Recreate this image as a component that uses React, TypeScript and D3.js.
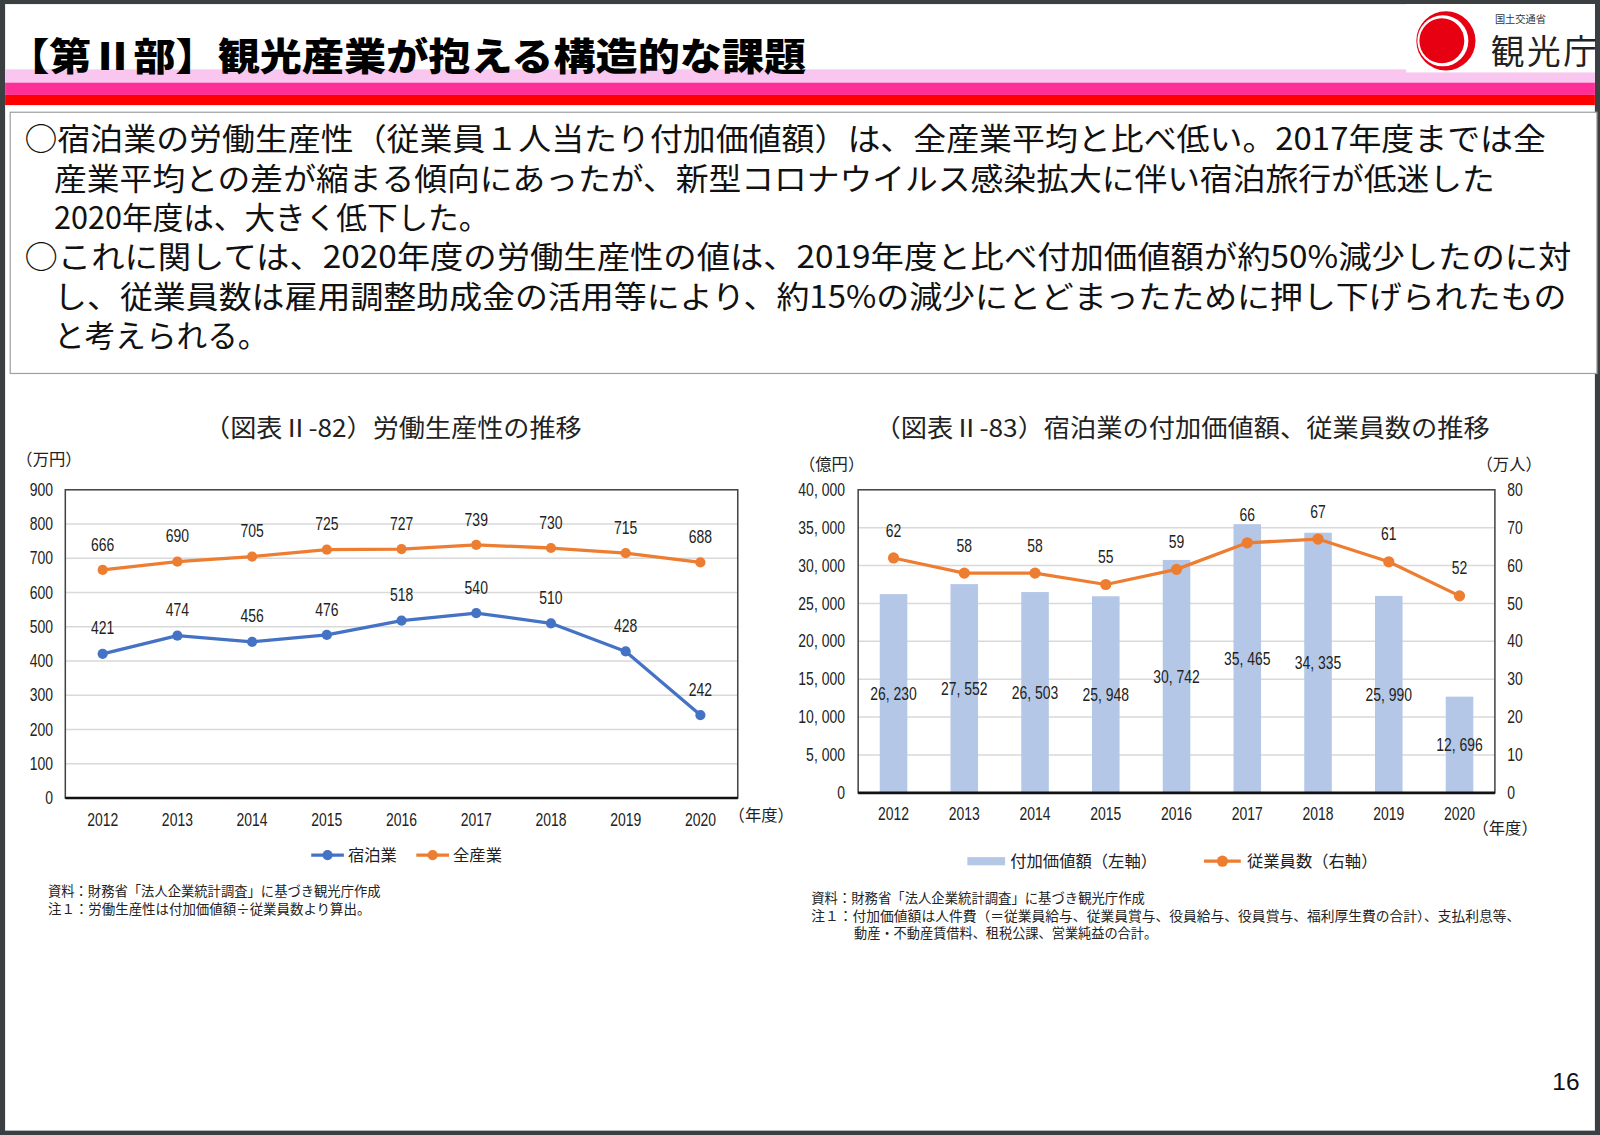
import React, { useEffect, useRef } from 'react';
import * as d3 from 'd3';

// chart data
const years = ['2012', '2013', '2014', '2015', '2016', '2017', '2018', '2019', '2020'];
const lodgingProductivity = [421, 474, 456, 476, 518, 540, 510, 428, 242];
const allIndustryProductivity = [666, 690, 705, 725, 727, 739, 730, 715, 688];
const addedValue = [26230, 27552, 26503, 25948, 30742, 35465, 34335, 25990, 12696];
const employees = [62, 58, 58, 55, 59, 66, 67, 61, 52];
const leftTicks1 = [0, 100, 200, 300, 400, 500, 600, 700, 800, 900];
const leftTicks2 = [0, 5000, 10000, 15000, 20000, 25000, 30000, 35000, 40000];
const rightTicks2 = [0, 10, 20, 30, 40, 50, 60, 70, 80];

const bodyLines = [
  '○宿泊業の労働生産性（従業員１人当たり付加価値額）は、全産業平均と比べ低い。2017年度までは全',
  '産業平均との差が縮まる傾向にあったが、新型コロナウイルス感染拡大に伴い宿泊旅行が低迷した',
  '2020年度は、大きく低下した。',
  '○これに関しては、2020年度の労働生産性の値は、2019年度と比べ付加価値額が約50%減少したのに対',
  'し、従業員数は雇用調整助成金の活用等により、約15%の減少にとどまったために押し下げられたもの',
  'と考えられる。',
];
const bodyWidths = [1491, 1412, null, 1516, 1482, null];

const JP = '"Noto Sans CJK JP", "Noto Sans", sans-serif';
const ARIAL = '"Liberation Sans", Arial, sans-serif';
const BLUE = '#4472c4';
const ORANGE = '#ed7d31';
const BAR = '#b4c7e7';
const GRID = '#d9d9d9';

const jpComma = (v) => d3.format(',')(v).replace(/,/g, ', ');

const App = () => {
  const ref = useRef(null);

  useEffect(() => {
    document.body.style.margin = '0';
    const svg = d3.select(ref.current);
    svg.selectAll('*').remove();

    // layout was measured on a 1568-wide copy of the slide
    const root = svg.append('g').attr('transform', `scale(${1600 / 1568})`);

    // page frame
    root.append('rect').attr('width', 1568).attr('height', 1113).attr('fill', '#3c3f41');
    root.append('rect').attr('x', 5).attr('y', 4).attr('width', 1558).attr('height', 1104).attr('fill', '#fff');

    // header bands
    root.append('rect').attr('x', 5).attr('y', 68).attr('width', 1558).attr('height', 13).attr('fill', '#f8c6ef');
    root.append('rect').attr('x', 5).attr('y', 81).attr('width', 1558).attr('height', 12).attr('fill', '#ff2d96');
    root.append('rect').attr('x', 5).attr('y', 93).attr('width', 1558).attr('height', 10).attr('fill', '#ff0000');
    root.append('rect').attr('x', 1378).attr('y', 4).attr('width', 185).attr('height', 67).attr('fill', '#fff');

    root.append('text')
      .attr('x', 7).attr('y', 69)
      .style('font-family', JP).style('font-weight', 900).style('font-size', '37px')
      .attr('textLength', 783).attr('lengthAdjust', 'spacingAndGlyphs')
      .text('【第Ⅱ部】観光産業が抱える構造的な課題');

    // logo
    root.append('circle').attr('cx', 1417).attr('cy', 40).attr('r', 29).attr('fill', '#e60012');
    root.append('circle').attr('cx', 1414).attr('cy', 40).attr('r', 25).attr('fill', '#fff');
    root.append('circle').attr('cx', 1413).attr('cy', 40).attr('r', 22).attr('fill', '#e60012');
    root.append('text').attr('x', 1465).attr('y', 23)
      .style('font-family', JP).style('font-size', '10px').attr('fill', '#333').text('国土交通省');
    root.append('text').attr('x', 1461).attr('y', 63)
      .style('font-family', JP).style('font-size', '33px').attr('fill', '#222')
      .attr('textLength', 104).attr('lengthAdjust', 'spacing').text('観光庁');

    // body text box
    root.append('rect').attr('x', 10).attr('y', 110).attr('width', 1555).attr('height', 256)
      .attr('fill', '#fff').attr('stroke', '#a0a0a0').attr('stroke-width', 1.2);
    const lineY = [147, 186, 224, 263, 302, 340];
    bodyLines.forEach((l, i) => {
      const t = root.append('text')
        .attr('x', l.startsWith('○') ? 24 : 53).attr('y', lineY[i])
        .style('font-family', JP).style('font-size', '30px').attr('fill', '#111')
        .text(l);
      if (bodyWidths[i]) t.attr('textLength', bodyWidths[i]).attr('lengthAdjust', 'spacingAndGlyphs');
    });

    const label = (g, x, y, txt, size, anchor = 'middle', family = JP, fill = '#222') =>
      g.append('text').attr('x', x).attr('y', y).attr('text-anchor', anchor)
        .style('font-family', family).style('font-size', `${size}px`).attr('fill', fill).text(txt);

    // narrow numeric labels (Arial Narrow look)
    const num = (g, x, y, txt, anchor = 'middle', size = 18) =>
      g.append('text').attr('transform', `translate(${x},${y}) scale(0.76,1)`)
        .attr('text-anchor', anchor)
        .style('font-family', ARIAL).style('font-size', `${size}px`).attr('fill', '#222').text(txt);

    // ---------- chart 1: productivity ----------
    const c1 = root.append('g');
    const x1 = d3.scaleBand().domain(years).range([64, 723]);
    const y1 = d3.scaleLinear().domain([0, 900]).range([782, 480]);
    const cx1 = (d) => x1(d) + x1.bandwidth() / 2;

    label(c1, 200, 428, '（図表Ⅱ-82）労働生産性の推移', 24, 'start')
      .attr('textLength', 370).attr('lengthAdjust', 'spacingAndGlyphs');
    label(c1, 16, 456, '（万円）', 16, 'start');

    leftTicks1.slice(1, -1).forEach((v) => {
      c1.append('line').attr('x1', 64).attr('x2', 723).attr('y1', y1(v)).attr('y2', y1(v))
        .attr('stroke', GRID).attr('stroke-width', 1.5);
    });
    c1.append('rect').attr('x', 64).attr('y', 480).attr('width', 659).attr('height', 302)
      .attr('fill', 'none').attr('stroke', '#444').attr('stroke-width', 1.5);
    c1.append('line').attr('x1', 64).attr('x2', 723).attr('y1', 782).attr('y2', 782)
      .attr('stroke', '#111').attr('stroke-width', 2.5);
    leftTicks1.forEach((v) => num(c1, 52, y1(v) + 6, String(v), 'end'));
    years.forEach((yr) => num(c1, cx1(yr), 809, yr));
    label(c1, 714, 805, '（年度）', 16, 'start');

    const line1 = d3.line().x((d, i) => cx1(years[i])).y((d) => y1(d));
    [[lodgingProductivity, BLUE], [allIndustryProductivity, ORANGE]].forEach(([vals, col]) => {
      c1.append('path').datum(vals).attr('d', line1).attr('fill', 'none')
        .attr('stroke', col).attr('stroke-width', 3.2).attr('stroke-linejoin', 'round');
      vals.forEach((v, i) => {
        c1.append('circle').attr('cx', cx1(years[i])).attr('cy', y1(v)).attr('r', 5).attr('fill', col);
        num(c1, cx1(years[i]), y1(v) - 19, String(v));
      });
    });

    // legend 1
    const lg1 = [['宿泊業', BLUE, 305], ['全産業', ORANGE, 408]];
    lg1.forEach(([name, col, lx]) => {
      c1.append('line').attr('x1', lx).attr('x2', lx + 32).attr('y1', 838).attr('y2', 838)
        .attr('stroke', col).attr('stroke-width', 3.2);
      c1.append('circle').attr('cx', lx + 16).attr('cy', 838).attr('r', 5).attr('fill', col);
      label(c1, lx + 36, 844, name, 16, 'start');
    });

    label(c1, 47, 878, '資料：財務省「法人企業統計調査」に基づき観光庁作成', 13, 'start')
      .attr('textLength', 326).attr('lengthAdjust', 'spacingAndGlyphs');
    label(c1, 47, 896, '注１：労働生産性は付加価値額÷従業員数より算出。', 13, 'start')
      .attr('textLength', 316).attr('lengthAdjust', 'spacingAndGlyphs');

    // ---------- chart 2: added value & employees ----------
    const c2 = root.append('g');
    const x2 = d3.scaleBand().domain(years).range([841, 1465]);
    const yL = d3.scaleLinear().domain([0, 40000]).range([777, 480]);
    const yR = d3.scaleLinear().domain([0, 80]).range([777, 480]);
    const cx2 = (d) => x2(d) + x2.bandwidth() / 2;
    const barW = 27;

    label(c2, 857, 428, '（図表Ⅱ-83）宿泊業の付加価値額、従業員数の推移', 24, 'start')
      .attr('textLength', 603).attr('lengthAdjust', 'spacingAndGlyphs');
    label(c2, 783, 461, '（億円）', 16, 'start');
    label(c2, 1447, 461, '（万人）', 16, 'start');

    leftTicks2.slice(1, -1).forEach((v) => {
      c2.append('line').attr('x1', 841).attr('x2', 1465).attr('y1', yL(v)).attr('y2', yL(v))
        .attr('stroke', GRID).attr('stroke-width', 1.5);
    });

    years.forEach((yr, i) => {
      c2.append('rect').attr('x', cx2(yr) - barW / 2).attr('y', yL(addedValue[i]))
        .attr('width', barW).attr('height', yL(0) - yL(addedValue[i])).attr('fill', BAR);
    });

    c2.append('rect').attr('x', 841).attr('y', 480).attr('width', 624).attr('height', 297)
      .attr('fill', 'none').attr('stroke', '#444').attr('stroke-width', 1.5);
    c2.append('line').attr('x1', 841).attr('x2', 1465).attr('y1', 777).attr('y2', 777)
      .attr('stroke', '#111').attr('stroke-width', 2.5);

    leftTicks2.forEach((v) => num(c2, 828, yL(v) + 6, jpComma(v), 'end'));
    rightTicks2.forEach((v) => num(c2, 1477, yR(v) + 6, String(v), 'start'));
    years.forEach((yr) => num(c2, cx2(yr), 804, yr));
    label(c2, 1443, 817, '（年度）', 16, 'start');

    years.forEach((yr, i) => {
      const mid = (yL(addedValue[i]) + yL(0)) / 2;
      num(c2, cx2(yr), mid + 6, jpComma(addedValue[i]));
    });

    const line2 = d3.line().x((d, i) => cx2(years[i])).y((d) => yR(d));
    c2.append('path').datum(employees).attr('d', line2).attr('fill', 'none')
      .attr('stroke', ORANGE).attr('stroke-width', 3.2).attr('stroke-linejoin', 'round');
    employees.forEach((v, i) => {
      c2.append('circle').attr('cx', cx2(years[i])).attr('cy', yR(v)).attr('r', 5.5).attr('fill', ORANGE);
      num(c2, cx2(years[i]), yR(v) - 21, String(v));
    });

    // legend 2
    c2.append('rect').attr('x', 948).attr('y', 840).attr('width', 37).attr('height', 8).attr('fill', BAR);
    label(c2, 990, 850, '付加価値額（左軸）', 16, 'start');
    c2.append('line').attr('x1', 1180).attr('x2', 1216).attr('y1', 844).attr('y2', 844)
      .attr('stroke', ORANGE).attr('stroke-width', 3.2);
    c2.append('circle').attr('cx', 1198).attr('cy', 844).attr('r', 5.5).attr('fill', ORANGE);
    label(c2, 1222, 850, '従業員数（右軸）', 16, 'start');

    label(c2, 795, 885, '資料：財務省「法人企業統計調査」に基づき観光庁作成', 13, 'start')
      .attr('textLength', 327).attr('lengthAdjust', 'spacingAndGlyphs');
    label(c2, 795, 903, '注１：付加価値額は人件費（＝従業員給与、従業員賞与、役員給与、役員賞与、福利厚生費の合計）、支払利息等、', 13, 'start')
      .attr('textLength', 695).attr('lengthAdjust', 'spacingAndGlyphs');
    label(c2, 837, 919, '動産・不動産賃借料、租税公課、営業純益の合計。', 13, 'start')
      .attr('textLength', 297).attr('lengthAdjust', 'spacingAndGlyphs');

    // page number
    label(root, 1548, 1068, '16', 24, 'end', ARIAL, '#111');
  }, []);

  return (
    <svg
      ref={ref}
      width={1600}
      height={1135}
      viewBox="0 0 1600 1135"
      style={{ position: 'absolute', left: 0, top: 0, display: 'block' }}
    />
  );
};

export default App;
